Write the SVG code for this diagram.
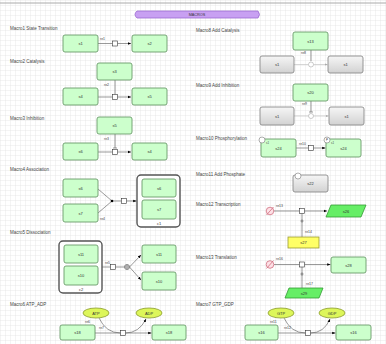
<svg xmlns="http://www.w3.org/2000/svg" width="386" height="344" viewBox="0 0 386 344">
  <defs>
    <pattern id="grid" width="5" height="5" patternUnits="userSpaceOnUse">
      <path d="M5 0H0V5" fill="none" stroke="#d9d9d9" stroke-width="0.6"/>
    </pattern>
    <linearGradient id="grayfill" x1="0" y1="0" x2="0" y2="1">
      <stop offset="0" stop-color="#f6f6f6"/>
      <stop offset="1" stop-color="#d2d2d2"/>
    </linearGradient>
    <marker id="arr" viewBox="0 0 10 10" refX="10" refY="5" markerWidth="5.5" markerHeight="5.5" orient="auto">
      <path d="M0 1L10 5L0 9Z" fill="#000"/>
    </marker>
    <marker id="arrg" viewBox="0 0 10 10" refX="10" refY="5" markerWidth="5" markerHeight="5" orient="auto">
      <path d="M0 1L10 5L0 9Z" fill="#aaa"/>
    </marker>
    <style>
      .lbl{font-family:"Liberation Sans",Arial,sans-serif;font-size:4.5px;fill:#444}
      .nt{font-family:"Liberation Sans",Arial,sans-serif;font-size:4px;fill:#333;text-anchor:middle}
      .rt{font-family:"Liberation Sans",Arial,sans-serif;font-size:3.5px;fill:#444}
      .g{fill:#ccffcc;stroke:#6a9a6a;stroke-width:0.9}
      .gr{fill:url(#grayfill);stroke:#8a8a8a;stroke-width:0.9}
      .cx{fill:#fff;stroke:#555;stroke-width:1.4}
      .ln{fill:none;stroke:#555;stroke-width:0.6}
      .lg{fill:none;stroke:#bbb;stroke-width:0.6}
      .pr{fill:#fff;stroke:#333;stroke-width:0.6}
      .ell{fill:#ddf65a;stroke:#8a9a30;stroke-width:0.8}
      .deg{fill:#fde0e6;stroke:#d07080;stroke-width:0.8}
      .st{fill:#fff;stroke:#777;stroke-width:0.6}
    </style>
  </defs>

  <rect width="386" height="344" fill="#fff"/>
  <rect width="386" height="344" fill="url(#grid)"/>
  <line x1="0" y1="3" x2="386" y2="3" stroke="#aaa" stroke-width="1"/>

  <!-- title banner -->
  <g id="banner">
    <path d="M137 11H258Q261 14.5 258 18H137Q133 14.5 137 11Z" fill="#c8a0f2" stroke="#9b6ad0" stroke-width="0.8"/>
    <text x="197" y="16" class="nt" style="font-size:3.8px">MACROS</text>
  </g>

  <!-- section captions -->
  <g id="captions">
    <text x="10" y="30" class="lbl">Macro1 State Transition</text>
    <text x="10" y="63" class="lbl">Macro2 Catalysis</text>
    <text x="10" y="120" class="lbl">Macro3 Inhibition</text>
    <text x="10" y="171" class="lbl">Macro4 Association</text>
    <text x="10" y="234" class="lbl">Macro5 Dissociation</text>
    <text x="10" y="306" class="lbl">Macro6 ATP_ADP</text>
    <text x="196" y="32" class="lbl">Macro8 Add Catalysis</text>
    <text x="196" y="87" class="lbl">Macro9 Add Inhibition</text>
    <text x="196" y="140" class="lbl">Macro10 Phosphorylation</text>
    <text x="196" y="176" class="lbl">Macro11 Add Phosphate</text>
    <text x="196" y="206" class="lbl">Macro12 Transcription</text>
    <text x="196" y="259" class="lbl">Macro13 Translation</text>
    <text x="196" y="306" class="lbl">Macro7 GTP_GDP</text>
  </g>

  <!-- connectors -->
  <g id="connectors">
    <!-- Macro1 -->
    <path class="ln" d="M98 43.5H112.5M117.5 43.5H131" marker-end="url(#arr)"/>
    <!-- Macro2 -->
    <path class="ln" d="M98 97H112.5M117.5 97H131" marker-end="url(#arr)"/>
    <path class="ln" d="M115 80V94.5"/>
    <!-- Macro3 -->
    <path class="ln" d="M98 152H112.5M117.5 152H131" marker-end="url(#arr)"/>
    <path class="ln" d="M115 134V148M113 148H117"/>
    <!-- Macro4 -->
    <path class="ln" d="M98 189L112 201M98 213L112 201M112 201H121.5M126.5 201H136.5" marker-end="url(#arr)"/>
    <!-- Macro5 -->
    <path class="ln" d="M102 267H110.5M115.5 267H124.5M129.5 267L141 255" marker-end="url(#arr)"/>
    <path class="ln" d="M129.5 267L141 280" marker-end="url(#arr)"/>
    <!-- Macro6 -->
    <path class="ln" d="M95 333H120.5M125.5 333H151.5" marker-end="url(#arr)"/>
    <path class="ln" d="M99 318Q106 333 120.5 333"/>
    <path class="ln" d="M125.5 333Q139 333 146 319" marker-end="url(#arr)"/>
    <!-- Macro8 -->
    <path class="lg" d="M294 64.5H308.5M313.5 64.5H327.5" marker-end="url(#arrg)"/>
    <path class="ln" d="M311 50V61"/>
    <!-- Macro9 -->
    <path class="lg" d="M294 116H308.5M313.5 116H328.5" marker-end="url(#arrg)"/>
    <path class="ln" d="M311 101V112M309 112H313"/>
    <!-- Macro10 -->
    <path class="ln" d="M296 148H308.5M313.5 148H325.5" marker-end="url(#arr)"/>
    <!-- Macro12 -->
    <path class="ln" d="M274 211H299.5M304.5 211H327" marker-end="url(#arr)"/>
    <path class="ln" d="M302 213.5V237"/>
    <circle class="pr" cx="302" cy="221" r="1"/>
    <!-- Macro13 -->
    <path class="ln" d="M274 264.5H299.5M304.5 264.5H330.5" marker-end="url(#arr)"/>
    <path class="ln" d="M302 267V288"/>
    <circle class="pr" cx="302" cy="274" r="1"/>
    <!-- Macro7 -->
    <path class="ln" d="M278 333H305.5M310.5 333H335.5" marker-end="url(#arr)"/>
    <path class="ln" d="M284 318Q291 333 305.5 333"/>
    <path class="ln" d="M310.5 333Q324 333 330 319" marker-end="url(#arr)"/>
  </g>

  <!-- process nodes -->
  <g id="processes">
    <rect class="pr" x="112.5" y="41" width="5" height="5"/>
    <rect class="pr" x="112.5" y="94.5" width="5" height="5"/>
    <rect class="pr" x="112.5" y="149.5" width="5" height="5"/>
    <circle cx="112" cy="201" r="1.3" fill="#000"/>
    <rect class="pr" x="121.5" y="198.5" width="5" height="5"/>
    <rect class="pr" x="110.5" y="264.5" width="5" height="5"/>
    <circle class="pr" cx="127" cy="267" r="2.5"/>
    <circle class="pr" cx="127" cy="267" r="1.3"/>
    <rect class="pr" x="120.5" y="330.5" width="5" height="5"/>
    <circle cx="311" cy="64.5" r="2.5" fill="#fff" stroke="#aaa" stroke-width="0.6"/>
    <circle cx="311" cy="116" r="2.5" fill="#fff" stroke="#aaa" stroke-width="0.6"/>
    <rect class="pr" x="308.5" y="145.5" width="5" height="5"/>
    <rect class="pr" x="299.5" y="208.5" width="5" height="5"/>
    <rect class="pr" x="299.5" y="262" width="5" height="5"/>
    <rect class="pr" x="305.5" y="330.5" width="5" height="5"/>
  </g>

  <!-- reaction labels -->
  <g id="reaction-labels">
    <text x="100" y="40" class="rt">re1</text>
    <text x="104" y="86" class="rt">re2</text>
    <text x="104" y="140" class="rt">re3</text>
    <text x="100" y="220" class="rt">re4</text>
    <text x="105" y="264" class="rt">re5</text>
    <text x="85" y="323" class="rt">re6</text>
    <text x="99" y="329" class="rt">re7</text>
    <text x="301" y="54" class="rt">re8</text>
    <text x="302" y="105" class="rt">re9</text>
    <text x="299" y="145" class="rt">re10</text>
    <text x="276" y="207" class="rt">re13</text>
    <text x="305" y="233" class="rt">re14</text>
    <text x="276" y="260" class="rt">re16</text>
    <text x="306" y="285" class="rt">re17</text>
    <text x="270" y="323" class="rt">re11</text>
    <text x="284" y="329" class="rt">re12</text>
  </g>

  <!-- Macro1 -->
  <g id="m1-s1"><rect class="g" x="63" y="35" width="35" height="17" rx="2"/><text x="80.5" y="45" class="nt">s1</text></g>
  <g id="m1-s2"><rect class="g" x="132" y="35" width="35" height="17" rx="2"/><text x="149.5" y="45" class="nt">s2</text></g>

  <!-- Macro2 -->
  <g id="m2-s3"><rect class="g" x="97" y="63" width="35" height="17" rx="2"/><text x="114.5" y="73" class="nt">s3</text></g>
  <g id="m2-s4"><rect class="g" x="63" y="88" width="35" height="17" rx="2"/><text x="80.5" y="98" class="nt">s4</text></g>
  <g id="m2-s5"><rect class="g" x="132" y="88" width="35" height="17" rx="2"/><text x="149.5" y="98" class="nt">s5</text></g>

  <!-- Macro3 -->
  <g id="m3-s6"><rect class="g" x="97" y="117" width="35" height="17" rx="2"/><text x="114.5" y="127" class="nt">s5</text></g>
  <g id="m3-s7"><rect class="g" x="63" y="143" width="35" height="17" rx="2"/><text x="80.5" y="153" class="nt">s6</text></g>
  <g id="m3-s8"><rect class="g" x="132" y="143" width="35" height="17" rx="2"/><text x="149.5" y="153" class="nt">s4</text></g>

  <!-- Macro4 -->
  <g id="m4-s6"><rect class="g" x="63" y="179" width="35" height="18" rx="2"/><text x="80.5" y="189.5" class="nt">s6</text></g>
  <g id="m4-s7"><rect class="g" x="63" y="204" width="35" height="18" rx="2"/><text x="80.5" y="214.5" class="nt">s7</text></g>
  <g id="m4-c1">
    <rect class="cx" x="137" y="175" width="43" height="52" rx="4"/>
    <rect class="g" x="142" y="179" width="34" height="18" rx="2"/><text x="159" y="189.5" class="nt">s6</text>
    <rect class="g" x="142" y="200" width="34" height="19" rx="2"/><text x="159" y="211" class="nt">s7</text>
    <text x="159" y="224.5" class="nt">c1</text>
  </g>

  <!-- Macro5 -->
  <g id="m5-c2">
    <rect class="cx" x="59" y="241" width="43" height="52" rx="4"/>
    <rect class="g" x="64" y="245" width="34" height="18" rx="2"/><text x="81" y="255.5" class="nt">s11</text>
    <rect class="g" x="64" y="266" width="34" height="19" rx="2"/><text x="81" y="277" class="nt">s10</text>
    <text x="81" y="290.5" class="nt">c2</text>
  </g>
  <g id="m5-s11"><rect class="g" x="142" y="245" width="34" height="18" rx="2"/><text x="159" y="255.5" class="nt">s11</text></g>
  <g id="m5-s10"><rect class="g" x="142" y="272" width="34" height="18" rx="2"/><text x="159" y="282.5" class="nt">s10</text></g>

  <!-- Macro6 -->
  <g id="m6-atp"><ellipse class="ell" cx="96" cy="313" rx="13" ry="5"/><text x="96" y="314.5" class="nt">ATP</text></g>
  <g id="m6-adp"><ellipse class="ell" cx="149" cy="313" rx="13" ry="5"/><text x="149" y="314.5" class="nt">ADP</text></g>
  <g id="m6-s18"><rect class="g" x="60" y="325" width="35" height="15" rx="2"/><text x="77.5" y="334" class="nt">s18</text></g>
  <g id="m6-s19"><rect class="g" x="152" y="325" width="34" height="15" rx="2"/><text x="169" y="334" class="nt">s18</text></g>

  <!-- Macro8 -->
  <g id="m8-s13"><rect class="g" x="293" y="32" width="35" height="18" rx="2"/><text x="310.5" y="42.5" class="nt">s13</text></g>
  <g id="m8-a"><rect class="gr" x="260" y="56" width="34" height="17" rx="2"/><text x="277" y="66" class="nt">s1</text></g>
  <g id="m8-b"><rect class="gr" x="328" y="56" width="35" height="17" rx="2"/><text x="345.5" y="66" class="nt">s1</text></g>

  <!-- Macro9 -->
  <g id="m9-s20"><rect class="g" x="293" y="84" width="35" height="17" rx="2"/><text x="310.5" y="94" class="nt">s20</text></g>
  <g id="m9-a"><rect class="gr" x="260" y="107" width="34" height="18" rx="2"/><text x="277" y="117.5" class="nt">s1</text></g>
  <g id="m9-b"><rect class="gr" x="329" y="107" width="35" height="18" rx="2"/><text x="346.5" y="117.5" class="nt">s1</text></g>

  <!-- Macro10 -->
  <g id="m10-s14">
    <rect class="g" x="261" y="139" width="35" height="18" rx="2"/>
    <circle class="st" cx="262" cy="140" r="3"/>
    <text x="266" y="143.5" class="rt" style="font-size:2.8px">s1</text>
    <text x="278.5" y="150" class="nt">s24</text>
  </g>
  <g id="m10-s15">
    <rect class="g" x="326" y="139" width="35" height="18" rx="2"/>
    <circle class="st" cx="327" cy="140" r="3"/>
    <text x="327" y="141.2" class="nt" style="font-size:3px">P</text>
    <text x="331" y="143.5" class="rt" style="font-size:2.8px">s1</text>
    <text x="343.5" y="150" class="nt">s24</text>
  </g>

  <!-- Macro11 -->
  <g id="m11-s22">
    <rect class="gr" x="293" y="175" width="35" height="17" rx="2"/>
    <circle class="st" cx="298" cy="176" r="3"/>
    <text x="310.5" y="185" class="nt">s22</text>
  </g>

  <!-- Macro12 -->
  <g id="m12-deg"><circle class="deg" cx="270" cy="211" r="3.8"/><line x1="266.5" y1="215" x2="273.5" y2="207" stroke="#d07080" stroke-width="0.8"/></g>
  <g id="m12-rna"><path d="M331 205H366L361 217H326Z" fill="#66ee66" stroke="#339933" stroke-width="0.8"/><text x="346" y="212.5" class="nt">s26</text></g>
  <g id="m12-gene"><rect x="288" y="237" width="31" height="11" fill="#ffff66" stroke="#999933" stroke-width="0.8"/><text x="303.5" y="244" class="nt">s27</text></g>

  <!-- Macro13 -->
  <g id="m13-deg"><circle class="deg" cx="270" cy="264.5" r="3.8"/><line x1="266.5" y1="268.5" x2="273.5" y2="260.5" stroke="#d07080" stroke-width="0.8"/></g>
  <g id="m13-s28"><rect class="g" x="331" y="257" width="35" height="16" rx="2"/><text x="348.5" y="266.5" class="nt">s28</text></g>
  <g id="m13-rna"><path d="M289 288H323L319 298H285Z" fill="#66ee66" stroke="#339933" stroke-width="0.8"/><text x="304" y="294.5" class="nt">s29</text></g>

  <!-- Macro7 -->
  <g id="m7-gtp"><ellipse class="ell" cx="281" cy="313" rx="13" ry="5"/><text x="281" y="314.5" class="nt">GTP</text></g>
  <g id="m7-gdp"><ellipse class="ell" cx="332" cy="313" rx="13" ry="5"/><text x="332" y="314.5" class="nt">GDP</text></g>
  <g id="m7-s16"><rect class="g" x="245" y="325" width="33" height="15" rx="2"/><text x="261.5" y="334" class="nt">s16</text></g>
  <g id="m7-s17"><rect class="g" x="336" y="325" width="35" height="15" rx="2"/><text x="353.5" y="334" class="nt">s16</text></g>
</svg>
